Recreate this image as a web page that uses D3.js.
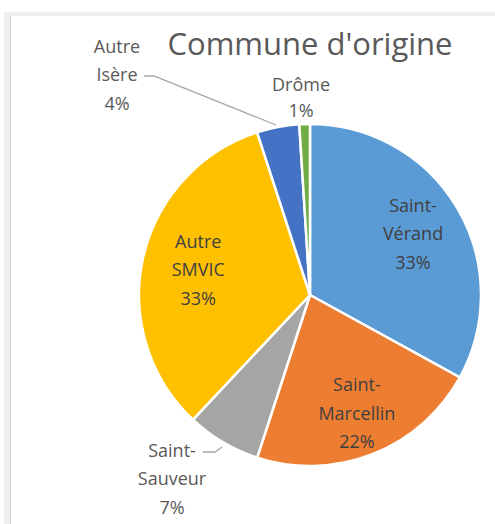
<!DOCTYPE html>
<html>
<head>
<meta charset="utf-8">
<script src="https://cdn.jsdelivr.net/npm/d3@7"></script>
<style>
  body { margin: 0; background: #fff; }
  svg { display: block; }
  text { font-family: "Open Sans", sans-serif; }
</style>
</head>
<body>
<div class="container"></div>
<script>
var w = 495,
  h = 524;

// data
var communes = ["Saint-Vérand", "Saint-Marcellin", "Saint-Sauveur", "Autre SMVIC", "Autre Isère", "Drôme"];
var parts = [33, 22, 7, 33, 4, 1];
var labelLines = [["Saint-", "Vérand"], ["Saint-", "Marcellin"], ["Saint-", "Sauveur"], ["Autre", "SMVIC"], ["Autre", "Isère"], ["Drôme"]];
var colors = ["#5b9bd5", "#ed7d31", "#a5a5a5", "#ffc000", "#4472c4", "#70ad47"];

var cx = 310,
  cy = 295,
  radius = 171;

var svg = d3
  .select(".container")
  .append("svg")
  .attr("width", w)
  .attr("height", h);

// screenshot frame
svg.append("rect").attr("x", 4).attr("y", 12).attr("width", w - 4).attr("height", 4).attr("fill", "#efefef");
svg.append("rect").attr("x", 4).attr("y", 12).attr("width", 7).attr("height", h - 12).attr("fill", "#efefef");
svg.append("line").attr("x1", 10.5).attr("x2", 10.5).attr("y1", 16).attr("y2", h).attr("stroke", "#d4d4d4");

svg
  .append("text")
  .attr("x", 310)
  .attr("y", 55)
  .attr("text-anchor", "middle")
  .attr("font-size", 31)
  .attr("fill", "#595959")
  .text("Commune d'origine");

var pie = d3.pie().sort(null).value((d) => d);
var arcs = pie(parts);
var arc = d3.arc().innerRadius(0).outerRadius(radius);

var g = svg.append("g").attr("transform", "translate(" + cx + "," + cy + ")");

g.selectAll("path")
  .data(arcs)
  .enter()
  .append("path")
  .attr("d", arc)
  .attr("fill", (d, i) => colors[i])
  .attr("stroke", "#fff")
  .attr("stroke-width", 2.5);

// label placement: inside labels sit on a radius factor, outside ones get an offset
var labelPos = [
  { k: 0.7 },
  { k: 0.745 },
  { dx: -138, dy: 184, out: true },
  { k: 0.67 },
  { dx: -193, dy: -220, out: true },
  { dx: -9, dy: -196, out: true },
];
var lineH = 28.5;

arcs.forEach((a, i) => {
  var p = labelPos[i];
  var x, y;
  if (p.out) {
    x = p.dx;
    y = p.dy;
  } else {
    var mid = (a.startAngle + a.endAngle) / 2;
    x = Math.sin(mid) * radius * p.k;
    y = -Math.cos(mid) * radius * p.k;
  }
  var lines = labelLines[i].concat([parts[i] + "%"]);
  var t = g
    .append("text")
    .attr("text-anchor", "middle")
    .attr("font-size", 18)
    .attr("fill", p.out ? "#595959" : "#404040");
  var y0 = y - ((lines.length - 1) * lineH) / 2;
  if (i == 5) lineH = 26;
  lines.forEach((l, j) => {
    t.append("tspan")
      .attr("x", x)
      .attr("y", y0 + j * lineH)
      .attr("dy", "0.35em")
      .text(l);
  });
  lineH = 28.5;
});

// leader lines
var leader = d3.line();
g.append("path")
  .attr("d", leader([[-107, 157], [-95, 157], [-88, 152]]))
  .attr("fill", "none")
  .attr("stroke", "#a6a6a6")
  .attr("stroke-width", 1.3);
g.append("path")
  .attr("d", leader([[-166, -219], [-156, -219], [-34, -170]]))
  .attr("fill", "none")
  .attr("stroke", "#a6a6a6")
  .attr("stroke-width", 1.3);
</script>
</body>
</html>
